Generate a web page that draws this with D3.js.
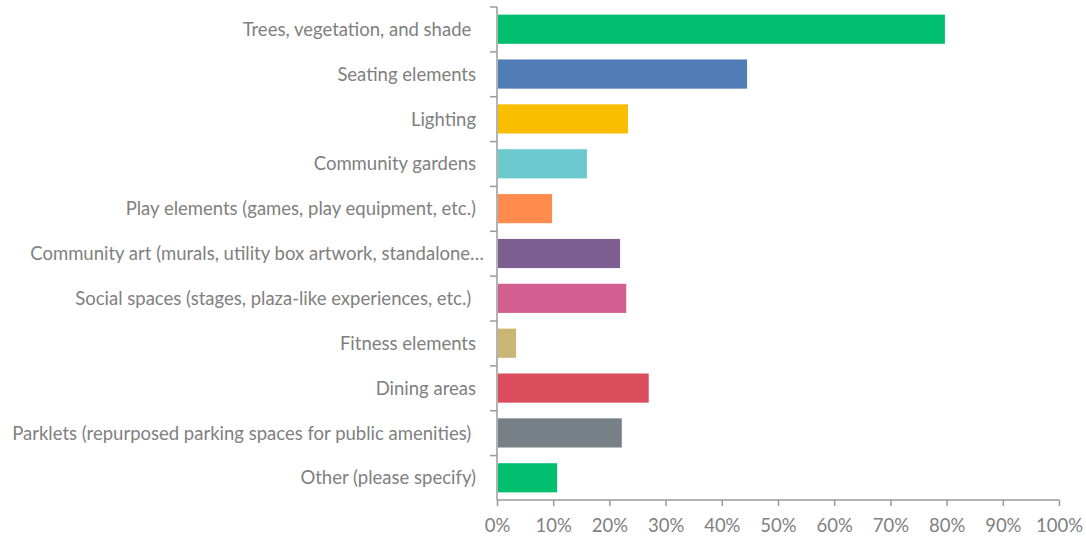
<!DOCTYPE html>
<html><head><meta charset="utf-8">
<script src="https://cdn.jsdelivr.net/npm/d3@7"></script>
<style>
html,body{margin:0;padding:0;background:#fff;}
svg text{font-family:Lato,"Open Sans",sans-serif;fill:#808080;white-space:pre;}
</style></head>
<body>
<svg id="chart" width="1086" height="538"></svg>
<script>
const categories = [
  "Trees, vegetation, and shade ",
  "Seating elements",
  "Lighting",
  "Community gardens",
  "Play elements (games, play equipment, etc.)",
  "Community art (murals, utility box artwork, standalone…",
  "Social spaces (stages, plaza-like experiences, etc.) ",
  "Fitness elements",
  "Dining areas",
  "Parklets (repurposed parking spaces for public amenities) ",
  "Other (please specify)"
];
const values = [79.7, 44.5, 23.3, 16.0, 9.8, 21.9, 23.0, 3.4, 27.0, 22.2, 10.7];
const colors = ["#00BF6F","#507CB6","#F9BE00","#6BC8CD","#FF8B4F","#7D5E90","#D25F90","#C9B674","#DB4D5C","#768086","#00BF6F"];
const xTicks = [0,10,20,30,40,50,60,70,80,90,100];

(function(){
const svg = d3.select("#chart");
const mLeft = 497, mRight = 1059, mTop = 7, mBottom = 500;
const fs = 18.5;

const x = d3.scaleLinear().domain([0,100]).range([mLeft,mRight]);
const y = d3.scaleBand().domain(categories).range([mTop,mBottom]).paddingInner(0.35).paddingOuter(0.17);

svg.append("g").selectAll("rect").data(categories).join("rect")
  .attr("x", x(0)+1)
  .attr("y", d => y(d))
  .attr("width", (d,i) => x(values[i]) - x(0) - 1)
  .attr("height", y.bandwidth())
  .attr("fill", (d,i) => colors[i]);

const axisColor = "#9a9a9a";
const gy = svg.append("g");
gy.append("line").attr("x1",mLeft).attr("x2",mLeft).attr("y1",mTop).attr("y2",mBottom)
  .attr("stroke",axisColor).attr("stroke-width",1.5);
const step = y.step();
const bounds = d3.range(categories.length).map(i => mTop + i*step);
gy.selectAll("line.t").data(bounds).join("line").attr("class","t")
  .attr("x1",mLeft-7).attr("x2",mLeft).attr("y1",d=>d).attr("y2",d=>d)
  .attr("stroke",axisColor).attr("stroke-width",1.5);
gy.selectAll("text").data(categories).join("text")
  .attr("x", d => d.endsWith("…") ? 484 : 476)
  .attr("y", d => y(d) + y.bandwidth()/2)
  .attr("dy","0.36em")
  .attr("text-anchor","end")
  .attr("font-size",fs)
  .text(d => d);

const xAxis = d3.axisBottom(x).tickValues(xTicks).tickFormat(d => d + "%").tickSize(6).tickPadding(13);
const gx = svg.append("g").attr("transform",`translate(0,${mBottom})`).call(xAxis);
gx.select(".domain").attr("stroke",axisColor).attr("stroke-width",1.5).attr("d",`M${mLeft},0H${mRight}`);
gx.selectAll(".tick line").attr("stroke",axisColor).attr("stroke-width",1.5);
gx.selectAll(".tick text").attr("font-size",fs).attr("fill","#808080").style("font-family","Lato, 'Open Sans', sans-serif");
})();
</script>
</body></html>
